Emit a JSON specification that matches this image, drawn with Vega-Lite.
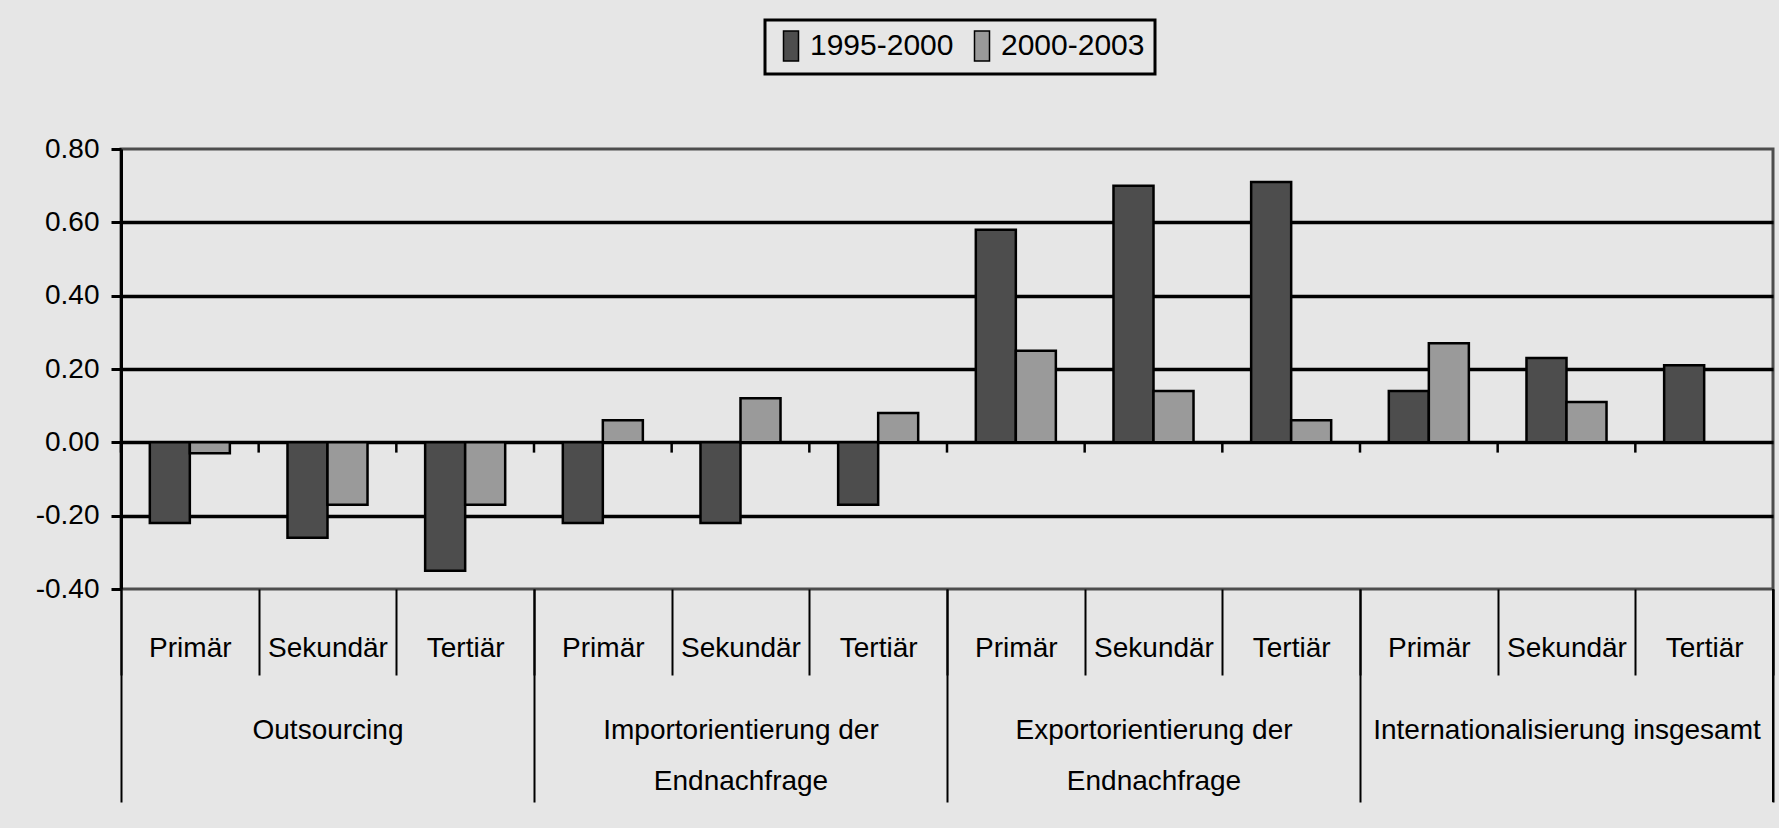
{
  "$schema": "https://vega.github.io/schema/vega-lite/v6.json",
  "width": 1652,
  "height": 440,
  "autosize": {"type": "none"},
  "padding": {"left": 121, "top": 149, "right": 6, "bottom": 239},
  "background": "#e6e6e6",
  "config": {
    "view": {"fill": "#e6e6e6", "stroke": "#4d4d4d", "strokeWidth": 3},
    "font": "Liberation Sans",
    "axis": {"labelFont": "Liberation Sans", "labelFontSize": 28, "labelColor": "black", "labelLimit": 0, "labelOverlap": false},
    "legend": {"strokeColor": "black", "strokeWidth": 3, "fillColor": "#e6e6e6"}
  },
  "data": {
    "values": [
      {"group": "Outsourcing", "key": "01 Primär", "series": "1995-2000", "value": -0.22},
      {"group": "Outsourcing", "key": "01 Primär", "series": "2000-2003", "value": -0.03},
      {"group": "Outsourcing", "key": "02 Sekundär", "series": "1995-2000", "value": -0.26},
      {"group": "Outsourcing", "key": "02 Sekundär", "series": "2000-2003", "value": -0.17},
      {"group": "Outsourcing", "key": "03 Tertiär", "series": "1995-2000", "value": -0.35},
      {"group": "Outsourcing", "key": "03 Tertiär", "series": "2000-2003", "value": -0.17},
      {"group": "Importorientierung der Endnachfrage", "key": "04 Primär", "series": "1995-2000", "value": -0.22},
      {"group": "Importorientierung der Endnachfrage", "key": "04 Primär", "series": "2000-2003", "value": 0.06},
      {"group": "Importorientierung der Endnachfrage", "key": "05 Sekundär", "series": "1995-2000", "value": -0.22},
      {"group": "Importorientierung der Endnachfrage", "key": "05 Sekundär", "series": "2000-2003", "value": 0.12},
      {"group": "Importorientierung der Endnachfrage", "key": "06 Tertiär", "series": "1995-2000", "value": -0.17},
      {"group": "Importorientierung der Endnachfrage", "key": "06 Tertiär", "series": "2000-2003", "value": 0.08},
      {"group": "Exportorientierung der Endnachfrage", "key": "07 Primär", "series": "1995-2000", "value": 0.58},
      {"group": "Exportorientierung der Endnachfrage", "key": "07 Primär", "series": "2000-2003", "value": 0.25},
      {"group": "Exportorientierung der Endnachfrage", "key": "08 Sekundär", "series": "1995-2000", "value": 0.70},
      {"group": "Exportorientierung der Endnachfrage", "key": "08 Sekundär", "series": "2000-2003", "value": 0.14},
      {"group": "Exportorientierung der Endnachfrage", "key": "09 Tertiär", "series": "1995-2000", "value": 0.71},
      {"group": "Exportorientierung der Endnachfrage", "key": "09 Tertiär", "series": "2000-2003", "value": 0.06},
      {"group": "Internationalisierung insgesamt", "key": "10 Primär", "series": "1995-2000", "value": 0.14},
      {"group": "Internationalisierung insgesamt", "key": "10 Primär", "series": "2000-2003", "value": 0.27},
      {"group": "Internationalisierung insgesamt", "key": "11 Sekundär", "series": "1995-2000", "value": 0.23},
      {"group": "Internationalisierung insgesamt", "key": "11 Sekundär", "series": "2000-2003", "value": 0.11},
      {"group": "Internationalisierung insgesamt", "key": "12 Tertiär", "series": "1995-2000", "value": 0.21}
    ]
  },
  "layer": [
    {
      "mark": {"type": "bar", "stroke": "black", "strokeWidth": 2.5},
      "encoding": {
        "x": {
          "field": "key", "type": "nominal",
          "scale": {"paddingInner": 0, "paddingOuter": 0},
          "axis": {
            "title": null, "domain": false, "labelAngle": 0,
            "labelExpr": "substring(datum.label, 3)",
            "tickBand": "extent", "tickSize": 86, "tickColor": "black", "tickWidth": 2,
            "labelPadding": -27, "labelBaseline": "middle"
          }
        },
        "xOffset": {"field": "series", "type": "nominal", "scale": {"paddingInner": 0, "paddingOuter": 0.72}},
        "y": {
          "field": "value", "type": "quantitative",
          "scale": {"domain": [-0.4, 0.8], "nice": false, "zero": false},
          "axis": {
            "title": null,
            "values": [-0.4, -0.2, 0, 0.2, 0.4, 0.6, 0.8],
            "labelExpr": "replace(format(datum.value, '.2f'), '\u2212', '-')",
            "domainColor": "black", "domainWidth": 3,
            "tickColor": "black", "tickWidth": 3, "tickSize": 10,
            "labelPadding": 12,
            "grid": true, "gridColor": "black", "gridWidth": 3.4,
            "gridOpacity": {"condition": {"test": "datum.value > 0.79 || datum.value < -0.39", "value": 0}, "value": 1}
          }
        },
        "color": {
          "field": "series", "type": "nominal",
          "scale": {"domain": ["1995-2000", "2000-2003"], "range": ["#4d4d4d", "#9a9a9a"]},
          "legend": {
            "title": null, "orient": "none", "legendX": 644, "legendY": -129,
            "direction": "horizontal", "padding": 10,
            "symbolType": "M-0.5,-1H0.5V1H-0.5Z", "symbolSize": 900,
            "symbolStrokeColor": "black", "symbolStrokeWidth": 1.5, "symbolOpacity": 1,
            "labelFont": "Liberation Sans", "labelFontSize": 30, "labelColor": "black",
            "labelOffset": 3, "columnPadding": 12
          }
        }
      }
    },
    {
      "transform": [{"filter": "datum.series == '1995-2000'"}],
      "mark": {"type": "rule", "color": "black", "strokeWidth": 2.5},
      "encoding": {
        "x": {"field": "key", "type": "nominal", "bandPosition": 0, "scale": {"paddingInner": 0, "paddingOuter": 0}, "axis": null},
        "y": {"datum": 0},
        "y2": {"datum": -0.028}
      }
    },
    {
      "transform": [{"filter": "datum.key == '12 Tertiär'"}],
      "mark": {"type": "rule", "color": "black", "strokeWidth": 2},
      "encoding": {
        "x": {
          "field": "group", "type": "nominal", "bandPosition": 1, "sort": null,
          "scale": {"domain": ["Outsourcing", "Importorientierung der Endnachfrage", "Exportorientierung der Endnachfrage", "Internationalisierung insgesamt"], "paddingInner": 0, "paddingOuter": 0},
          "axis": {
            "title": null, "domain": false, "labelAngle": 0, "orient": "bottom",
            "labelExpr": "datum.label == 'Importorientierung der Endnachfrage' ? ['Importorientierung der', 'Endnachfrage'] : datum.label == 'Exportorientierung der Endnachfrage' ? ['Exportorientierung der', 'Endnachfrage'] : datum.label",
            "labelLineHeight": 51,
            "tickBand": "extent", "tickSize": 213, "tickColor": "black", "tickWidth": 2,
            "labelPadding": -86, "labelBaseline": "top"
          }
        },
        "y": {"datum": -0.4},
        "y2": {"datum": -0.981}
      }
    }
  ],
  "resolve": {"scale": {"x": "independent"}, "axis": {"x": "independent"}}
}
